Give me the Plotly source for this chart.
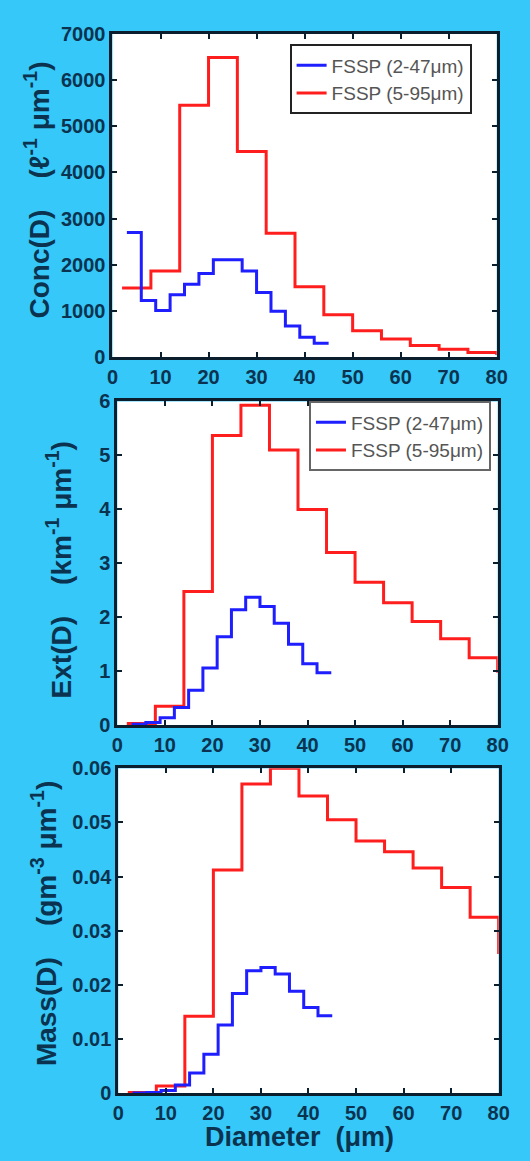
import plotly.graph_objects as go

# ---------------- data ----------------
red_edges = [2, 8, 14, 20, 26, 32, 38, 44, 50, 56, 62, 68, 74, 80, 86]
blue_edges = [3, 6, 9, 12, 15, 18, 21, 24, 27, 30, 33, 36, 39, 42, 45]

conc_red = [1500, 1865, 5450, 6480, 4450, 2680, 1525, 920, 575, 395, 255, 175, 105, 80]
conc_blue = [2700, 1230, 1010, 1350, 1580, 1810, 2110, 2110, 1865, 1400, 995, 675, 435, 305]

ext_red = [0.03, 0.35, 2.48, 5.37, 5.93, 5.10, 4.00, 3.20, 2.65, 2.27, 1.92, 1.60, 1.25, 1.00]
ext_blue = [0.02, 0.05, 0.14, 0.33, 0.65, 1.06, 1.64, 2.14, 2.37, 2.20, 1.89, 1.50, 1.14, 0.97]

mass_red = [0.0001, 0.0013, 0.0142, 0.0412, 0.0571, 0.0600, 0.0549, 0.0505, 0.0466,
            0.0446, 0.0416, 0.0380, 0.0325, 0.0260]
mass_blue = [0.0, 0.0001, 0.0005, 0.0015, 0.0037, 0.0072, 0.0126, 0.0184, 0.0226,
             0.0232, 0.0220, 0.0188, 0.0158, 0.0143]

name_blue = "FSSP (2-47μm)"
name_red = "FSSP (5-95μm)"

x_ticks = [0, 10, 20, 30, 40, 50, 60, 70, 80]
conc_ticks = [0, 1000, 2000, 3000, 4000, 5000, 6000, 7000]
ext_ticks = [0, 1, 2, 3, 4, 5, 6]
mass_ticks = [0, 0.01, 0.02, 0.03, 0.04, 0.05, 0.06]
mass_tick_text = ["0", "0.01", "0.02", "0.03", "0.04", "0.05", "0.06"]

# ---------------- style ----------------
W, H = 530, 1161
BG = "#36C8F8"
TXT = "#0b3350"
AX = "#0a1e2e"
RED = "#FF1E1E"
BLUE = "#1E1EFF"
FONT = "Liberation Sans, Arial, sans-serif"


def step(edges, vals):
    return edges[:len(vals) + 1], list(vals) + [vals[-1]]


fig = go.Figure()

panels = [
    ("x", "y", conc_red, conc_blue, "legend"),
    ("x2", "y2", ext_red, ext_blue, "legend2"),
    ("x3", "y3", mass_red, mass_blue, None),
]
for xa, ya, rv, bv, leg in panels:
    rx, ry = step(red_edges, rv)
    bx, by = step(blue_edges, bv)
    kw = dict(legend=leg) if leg else {}
    fig.add_trace(go.Scatter(x=rx, y=ry, mode="lines", line_shape="hv",
                             line=dict(color=RED, width=3), name=name_red,
                             xaxis=xa, yaxis=ya, showlegend=leg is not None,
                             legendrank=2, **kw))
    fig.add_trace(go.Scatter(x=bx, y=by, mode="lines", line_shape="hv",
                             line=dict(color=BLUE, width=3), name=name_blue,
                             xaxis=xa, yaxis=ya, showlegend=leg is not None,
                             legendrank=1, **kw))


def px_x(a, b):
    return [a / W, b / W]


def px_y(top, bottom):
    return [1 - bottom / H, 1 - top / H]


axis_common = dict(
    showline=True, linecolor=AX, linewidth=3, mirror="allticks",
    ticks="inside", ticklen=5, tickwidth=2, tickcolor=AX,
    showgrid=False, zeroline=False,
    tickfont=dict(family=FONT, size=20, color=TXT, weight="bold"),
)

fig.update_layout(
    width=W, height=H,
    margin=dict(l=0, r=0, t=0, b=0),
    paper_bgcolor=BG, plot_bgcolor="white",
    showlegend=True,
    xaxis=dict(domain=px_x(110, 507), anchor="y", range=[0, 80],
               tickvals=x_ticks, **axis_common),
    yaxis=dict(domain=px_y(23, 353), anchor="x", range=[0, 7000],
               tickvals=conc_ticks, **axis_common),
    xaxis2=dict(domain=px_x(115, 508), anchor="y2", range=[0, 80],
                tickvals=x_ticks, **axis_common),
    yaxis2=dict(domain=px_y(398, 728), anchor="x2", range=[0, 6],
                tickvals=ext_ticks, **axis_common),
    xaxis3=dict(domain=px_x(116, 509), anchor="y3", range=[0, 80],
                tickvals=x_ticks, **axis_common),
    yaxis3=dict(domain=px_y(772, 1103), anchor="x3", range=[0, 0.06],
                tickvals=mass_ticks, ticktext=mass_tick_text, **axis_common),
    legend=dict(x=293 / W, y=1 - 34 / H, xanchor="left", yanchor="top",
                bgcolor="white", bordercolor="#222222", borderwidth=2,
                font=dict(family=FONT, size=19, color="#555555"),
                tracegroupgap=0),
    legend2=dict(x=313 / W, y=1 - 398 / H, xanchor="left", yanchor="top",
                 bgcolor="white", bordercolor="#666666", borderwidth=2,
                 font=dict(family=FONT, size=19, color="#555555"),
                 tracegroupgap=0),
)

title_font = dict(family=FONT, size=28, color=TXT, weight="bold")
annots = [
    ("Conc(D)    (ℓ<sup>-1</sup> μm<sup>-1</sup>)", 32, 182),
    ("Ext(D)    (km<sup>-1</sup> μm<sup>-1</sup>)", 55, 570),
    ("Mass(D)    (gm<sup>-3</sup> μm<sup>-1</sup>)", 40, 930),
]
for txt, cx, cy in annots:
    fig.add_annotation(text=txt, xref="paper", yref="paper",
                       x=cx / W, y=1 - cy / H, xanchor="center", yanchor="middle",
                       textangle=-90, showarrow=False, font=title_font)

fig.add_annotation(text="Diameter  (μm)", xref="paper", yref="paper",
                   x=303 / W, y=1 - 1148 / H, xanchor="center", yanchor="middle",
                   showarrow=False, font=dict(family=FONT, size=27, color=TXT, weight="bold"))

fig.write_html("out.html")
